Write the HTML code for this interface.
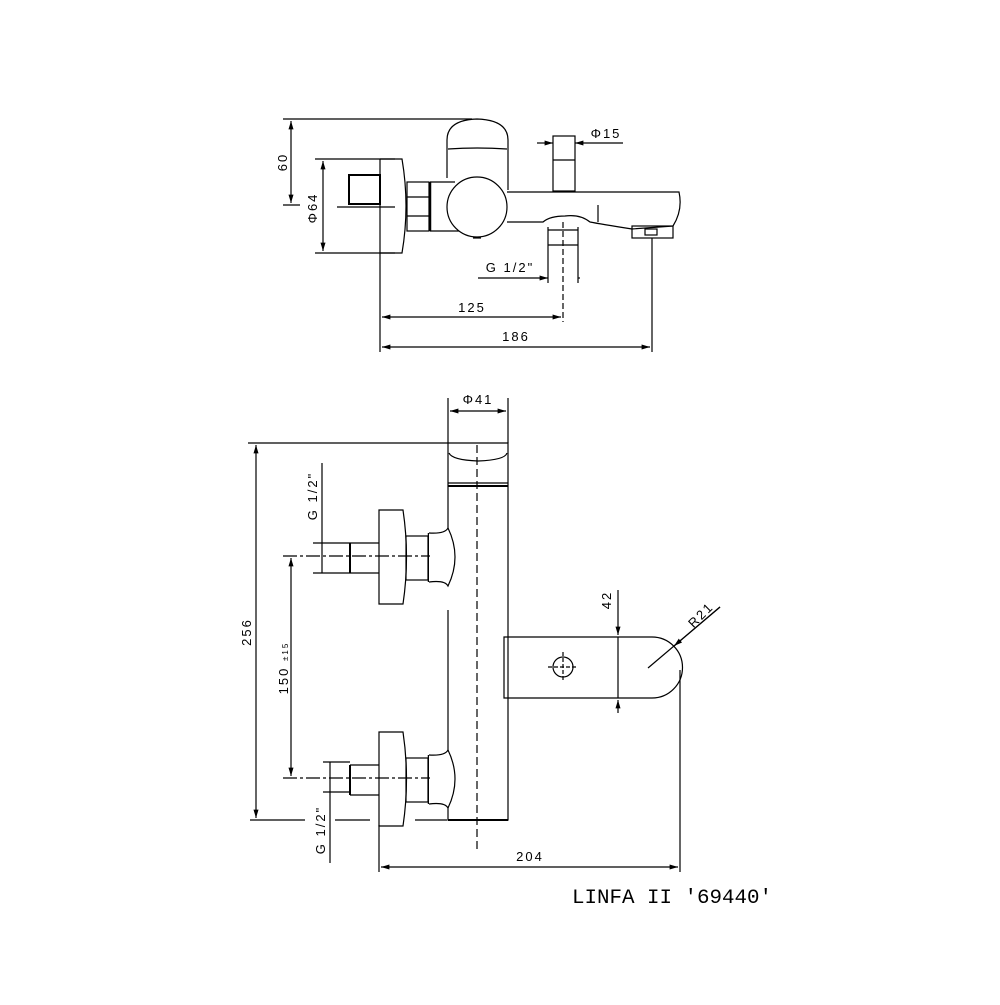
<!DOCTYPE html>
<html><head><style>html,body{margin:0;padding:0;background:#fff}</style></head><body>
<svg width="1000" height="1000" viewBox="0 0 1000 1000" xmlns="http://www.w3.org/2000/svg" font-family="Liberation Sans, sans-serif" fill="none" stroke="#000" stroke-width="1.2">
<defs>
<marker id="a" viewBox="0 0 10 10" refX="10" refY="5" markerWidth="7" markerHeight="7" orient="auto-start-reverse"><path d="M0,2 L10,5 L0,8" fill="#000" stroke="none"/></marker>
</defs>
<!-- TOP VIEW -->
<line x1="283" y1="119" x2="472" y2="119"/>
<line x1="291" y1="121" x2="291" y2="203" marker-start="url(#a)" marker-end="url(#a)"/>
<line x1="283" y1="205" x2="300" y2="205"/>
<text x="287" y="162" transform="rotate(-90 287 162)" fill="#000" stroke="none" font-size="13" text-anchor="middle" letter-spacing="2">60</text>
<line x1="315" y1="159" x2="395" y2="159"/>
<line x1="315" y1="253" x2="395" y2="253"/>
<line x1="323" y1="161" x2="323" y2="251" marker-start="url(#a)" marker-end="url(#a)"/>
<text x="317" y="208" transform="rotate(-90 317 208)" fill="#000" stroke="none" font-size="13" text-anchor="middle" letter-spacing="2">Φ64</text>
<path d="M380,159 L402,159 Q410,206 402,253 L380,253"/>
<rect x="349" y="175" width="31" height="29" stroke-width="2"/>
<line x1="337" y1="207" x2="395" y2="207"/>
<rect x="407" y="182" width="22" height="49"/>
<line x1="407" y1="197" x2="429" y2="197"/><line x1="407" y1="216" x2="429" y2="216"/>
<line x1="430" y1="182" x2="430" y2="231" stroke-width="2.5"/>
<line x1="430" y1="182" x2="455" y2="182"/><line x1="430" y1="231" x2="460" y2="231"/>
<path d="M447,178 L447,140 Q447,120 477,119 Q508,120 508,140 L508,190"/>
<path d="M448,149 Q477,147 507,149"/>
<circle cx="477" cy="207" r="30" fill="#fff"/>
<path d="M473,238 L481,238"/>
<path d="M507,192 L679,192 Q683,210 673,226 L632,229 Q600,224 590,222 Q580,214 565,216 Q550,216 543,222 L507,222"/>
<line x1="598" y1="205" x2="598" y2="222"/>
<rect x="632" y="226" width="41" height="12"/>
<rect x="645" y="229" width="12" height="6"/>
<rect x="553" y="136" width="22" height="55"/>
<line x1="553" y1="160" x2="575" y2="160"/>
<line x1="537" y1="143" x2="553" y2="143" marker-end="url(#a)"/>
<line x1="623" y1="143" x2="575" y2="143" marker-end="url(#a)"/>
<text x="606" y="138" fill="#000" stroke="none" font-size="13" text-anchor="middle" letter-spacing="2">Φ15</text>
<path d="M548,227 L548,283 M578,227 L578,283 M548,245 L578,245 M548,230 L578,230"/>
<line x1="563" y1="222" x2="563" y2="322" stroke-dasharray="6,3"/>
<line x1="478" y1="278" x2="548" y2="278" marker-end="url(#a)"/>
<line x1="580" y1="278" x2="578" y2="278"/>
<text x="510" y="272" fill="#000" stroke="none" font-size="13" text-anchor="middle" letter-spacing="2">G 1/2"</text>
<line x1="380" y1="159" x2="380" y2="352"/>
<line x1="652" y1="238" x2="652" y2="352"/>
<line x1="382" y1="317" x2="561" y2="317" marker-start="url(#a)" marker-end="url(#a)"/>
<text x="472" y="312" fill="#000" stroke="none" font-size="13" text-anchor="middle" letter-spacing="2">125</text>
<line x1="382" y1="347" x2="650" y2="347" marker-start="url(#a)" marker-end="url(#a)"/>
<text x="516" y="341" fill="#000" stroke="none" font-size="13" text-anchor="middle" letter-spacing="2">186</text>

<!-- FRONT VIEW -->
<line x1="448" y1="398" x2="448" y2="443"/><line x1="508" y1="398" x2="508" y2="443"/>
<line x1="450" y1="411" x2="506" y2="411" marker-start="url(#a)" marker-end="url(#a)"/>
<text x="478" y="404" fill="#000" stroke="none" font-size="13" text-anchor="middle" letter-spacing="2">Φ41</text>
<line x1="248" y1="443" x2="448" y2="443"/>
<path d="M448,443 L508,443 L508,820 L448,820 L448,610 M448,545 L448,443"/>
<path d="M449,453 Q452,460 478,461 Q505,460 507,453"/>
<line x1="448" y1="483" x2="508" y2="483"/><line x1="448" y1="486" x2="508" y2="486" stroke-width="2"/>
<line x1="448" y1="820" x2="508" y2="820" stroke-width="2"/>
<line x1="477" y1="445" x2="477" y2="853" stroke-dasharray="8,4"/>
<line x1="256" y1="445" x2="256" y2="818" marker-start="url(#a)" marker-end="url(#a)"/>
<path d="M250,820 L305,820 M335,820 L370,820 M415,820 L447,820"/>
<text x="251" y="632" transform="rotate(-90 251 632)" fill="#000" stroke="none" font-size="13" text-anchor="middle" letter-spacing="2">256</text>
<g id="k">
<path d="M379,510 L403,510 Q410,557 403,604 L379,604 Z"/>
<rect x="406" y="536" width="22" height="44"/>
<line x1="429" y1="533" x2="429" y2="582" stroke-width="2.5"/>
<path d="M429,533 Q445,534 448,528 Q462,557 448,586 Q445,580 429,582" fill="#fff"/>
<line x1="350" y1="543" x2="379" y2="543"/><line x1="350" y1="573" x2="379" y2="573"/>
<line x1="350" y1="543" x2="350" y2="573" stroke-width="2"/>
</g>
<use href="#k" transform="translate(0,222)"/>
<line x1="283" y1="556" x2="430" y2="556" stroke-dasharray="14,3,3,3"/>
<line x1="283" y1="778" x2="430" y2="778" stroke-dasharray="14,3,3,3"/>
<line x1="291" y1="558" x2="291" y2="776" marker-start="url(#a)" marker-end="url(#a)"/>
<text x="288" y="668" transform="rotate(-90 288 668)" fill="#000" stroke="none" font-size="13" text-anchor="middle" letter-spacing="2">150 <tspan font-size="8">±15</tspan></text>
<line x1="322" y1="463" x2="322" y2="573"/>
<line x1="313" y1="543" x2="350" y2="543"/><line x1="313" y1="573" x2="350" y2="573"/>
<text x="317" y="496" transform="rotate(-90 317 496)" fill="#000" stroke="none" font-size="13" text-anchor="middle" letter-spacing="2">G 1/2"</text>
<line x1="330" y1="762" x2="330" y2="863"/>
<line x1="323" y1="762" x2="350" y2="762"/><line x1="323" y1="792" x2="350" y2="792"/>
<text x="325" y="830" transform="rotate(-90 325 830)" fill="#000" stroke="none" font-size="13" text-anchor="middle" letter-spacing="2">G 1/2"</text>
<path d="M508,637 L504,637 L504,698 L652,698 A30.5,30.5 0 0 0 652,637 L508,637"/>
<circle cx="563" cy="667" r="10"/>
<path d="M548,667 L578,667 M563,652 L563,682" stroke-dasharray="4,2"/>
<line x1="618" y1="590" x2="618" y2="635" marker-end="url(#a)"/>
<line x1="618" y1="713" x2="618" y2="700" marker-end="url(#a)"/>
<line x1="618" y1="637" x2="618" y2="698"/>
<text x="611" y="600" transform="rotate(-90 611 600)" fill="#000" stroke="none" font-size="13" text-anchor="middle" letter-spacing="2">42</text>
<line x1="720" y1="607" x2="648" y2="668"/>
<line x1="720" y1="607" x2="674" y2="646" marker-end="url(#a)"/>
<text x="704" y="618" transform="rotate(-45 704 618)" fill="#000" stroke="none" font-size="13" text-anchor="middle" letter-spacing="2">R21</text>
<line x1="379" y1="825" x2="379" y2="872"/>
<line x1="680" y1="670" x2="680" y2="872"/>
<line x1="381" y1="867" x2="678" y2="867" marker-start="url(#a)" marker-end="url(#a)"/>
<text x="530" y="861" fill="#000" stroke="none" font-size="13" text-anchor="middle" letter-spacing="2">204</text>
<text x="572" y="903" fill="#000" stroke="none" font-family="Liberation Mono, monospace" font-size="20" textLength="200" lengthAdjust="spacingAndGlyphs">LINFA II '69440'</text>
</svg>
</body></html>
